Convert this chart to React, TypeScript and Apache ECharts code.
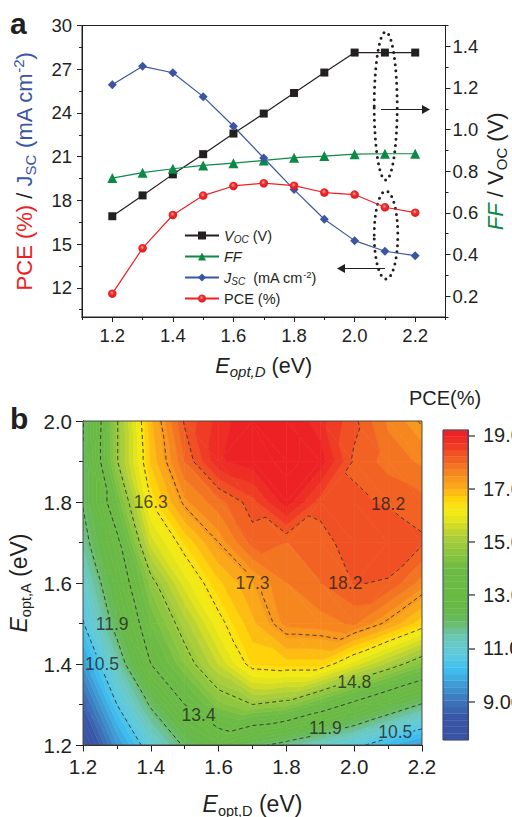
import { useEffect, useRef } from "react"
import * as echarts from "echarts"

// panel a
const eoptD = [1.2, 1.3, 1.4, 1.5, 1.6, 1.7, 1.8, 1.9, 2.0, 2.1, 2.2]
const voc = [0.584, 0.684, 0.785, 0.882, 0.981, 1.077, 1.176, 1.274, 1.37, 1.37, 1.37]
const ff = [0.767, 0.793, 0.812, 0.828, 0.839, 0.852, 0.865, 0.873, 0.882, 0.884, 0.884]
const jsc = [25.94, 27.2, 26.76, 25.12, 23.09, 20.91, 18.74, 16.71, 15.24, 14.51, 14.21]
const pce = [11.6, 14.72, 17.0, 18.33, 18.99, 19.18, 19.01, 18.54, 18.4, 17.53, 17.16]

const topXMajor = [1.2, 1.4, 1.6, 1.8, 2.0, 2.2]
const topXMinor = [1.1, 1.3, 1.5, 1.7, 1.9, 2.1, 2.3]
const leftMajor = [12, 15, 18, 21, 24, 27, 30]
const leftMinor = [10.5, 13.5, 16.5, 19.5, 22.5, 25.5, 28.5]
const rightMajor = [0.2, 0.4, 0.6, 0.8, 1.0, 1.2, 1.4]
const rightMinor = [0.1, 0.3, 0.5, 0.7, 0.9, 1.1, 1.3, 1.5]

// panel b, rows run from Eopt,A = 1.2 up to 2.0
const mapX = [1.2, 1.3, 1.4, 1.5, 1.6, 1.7, 1.8, 1.9, 2.0, 2.1, 2.2]
const mapY = [1.2, 1.3, 1.4, 1.5, 1.6, 1.7, 1.8, 1.9, 2.0]
const pceMap = [
  [7.6, 9.5, 10.9, 12.0, 12.7, 12.1, 11.65, 11.2, 10.7, 10.1, 9.6],
  [8.6, 10.5, 12.0, 13.4, 14.4, 14.8, 14.6, 13.9, 13.2, 12.5, 11.85],
  [9.6, 11.4, 13.4, 14.5, 15.5, 16.5, 16.6, 16.6, 15.85, 15.15, 14.4],
  [10.45, 12.2, 14.0, 15.1, 16.15, 16.9, 17.55, 17.6, 17.75, 17.2, 16.55],
  [11.0, 12.7, 14.6, 15.85, 16.65, 17.2, 17.7, 17.95, 18.22, 18.17, 17.6],
  [11.6, 13.2, 15.6, 16.5, 17.3, 18.05, 17.95, 18.05, 18.4, 18.42, 18.25],
  [11.95, 14.0, 16.3, 17.4, 17.85, 18.35, 19.1, 18.33, 18.25, 18.17, 18.05],
  [11.95, 14.75, 16.75, 17.95, 18.9, 19.1, 19.25, 19.1, 18.15, 17.85, 17.66],
  [11.85, 14.75, 16.9, 18.25, 18.8, 19.2, 19.25, 18.8, 18.27, 17.66, 17.25],
]
const contourLevels = [10.5, 11.9, 13.4, 14.8, 16.3, 17.3, 18.2]
const contourLabels = [
  [1.4, 1.8, "16.3"],
  [1.7, 1.6, "17.3"],
  [1.974, 1.6, "18.2"],
  [2.1, 1.794, "18.2"],
  [1.286, 1.5, "11.9"],
  [1.256, 1.4, "10.5"],
  [1.541, 1.274, "13.4"],
  [2.0, 1.356, "14.8"],
  [1.915, 1.241, "11.9"],
  [2.121, 1.233, "10.5"],
]
const mapXMajor = [1.2, 1.4, 1.6, 1.8, 2.0, 2.2]
const mapXMinor = [1.3, 1.5, 1.7, 1.9, 2.1]
const mapYMajor = [1.2, 1.4, 1.6, 1.8, 2.0]
const mapYMinor = [1.3, 1.5, 1.7, 1.9]
const barTicks = [9, 11, 13, 15, 17, 19]

// colour scale
const barMin = 7.56
const barMax = 19.2
const bandStep = 0.2475
const colorStops: [number, string][] = [
  [7.5, "#3953a4"],
  [8.4, "#3a56a6"],
  [9.0, "#3d74b8"],
  [9.7, "#3f9fd8"],
  [10.2, "#3dbfef"],
  [10.7, "#5cc9e0"],
  [11.3, "#6ccbc0"],
  [11.6, "#6bc2a0"],
  [12.0, "#69bb60"],
  [12.5, "#67b945"],
  [14.0, "#6dbb45"],
  [14.6, "#8dc63f"],
  [15.2, "#afcf3a"],
  [15.8, "#e0e31b"],
  [16.2, "#f7ec13"],
  [16.6, "#ffd20a"],
  [16.87, "#fdb913"],
  [17.12, "#faa61a"],
  [17.37, "#f8971d"],
  [17.6, "#f6861f"],
  [17.85, "#f37321"],
  [18.1, "#f26022"],
  [18.35, "#f04e23"],
  [18.6, "#ef3a24"],
  [19.0, "#ed2324"],
  [19.3, "#ed2024"],
]

const ink = "#231f20"
const font = "Liberation Sans"

function colorAt(v: number) {
  for (let i = 1; i < colorStops.length; i++) {
    if (v <= colorStops[i][0]) {
      const [v0, c0] = colorStops[i - 1]
      const [v1, c1] = colorStops[i]
      const t = Math.max(0, (v - v0) / (v1 - v0))
      const mix = [1, 3, 5].map((p) => {
        const a = parseInt(c0.slice(p, p + 2), 16)
        const b = parseInt(c1.slice(p, p + 2), 16)
        return Math.round(a + (b - a) * t)
      })
      return `rgb(${mix.join(",")})`
    }
  }
  return colorStops[colorStops.length - 1][1]
}

const bands: number[][] = []
for (let k = 0; barMin + k * bandStep < barMax; k++) {
  bands.push([barMin + k * bandStep, Math.min(barMax, barMin + (k + 1) * bandStep)])
}
// the map can dip just under the bar's lower end
bands[0][0] = 0
bands[bands.length - 1][1] = 100

type V = { x: number; y: number; z: number; key: string }

function vertex(i: number, j: number): V {
  return { x: mapX[i], y: mapY[j], z: pceMap[j][i], key: `${i}_${j}` }
}

// split each cell along the diagonal that runs with the contours, not across them
function cellTriangles(i: number, j: number): V[][] {
  const a = vertex(i, j)
  const b = vertex(i + 1, j)
  const c = vertex(i + 1, j + 1)
  const d = vertex(i, j + 1)
  if (Math.abs(a.z - c.z) <= Math.abs(b.z - d.z)) {
    return [
      [a, b, c],
      [a, c, d],
    ]
  }
  return [
    [a, b, d],
    [b, c, d],
  ]
}

function cross(p: V, q: V, level: number): V {
  const t = (level - p.z) / (q.z - p.z)
  const key = p.key < q.key ? `${p.key}|${q.key}` : `${q.key}|${p.key}`
  return { x: p.x + (q.x - p.x) * t, y: p.y + (q.y - p.y) * t, z: level, key }
}

function clipPoly(poly: V[], level: number, keepAbove: boolean) {
  const out: V[] = []
  poly.forEach((p, n) => {
    const q = poly[(n + 1) % poly.length]
    const pIn = keepAbove ? p.z >= level : p.z <= level
    const qIn = keepAbove ? q.z >= level : q.z <= level
    if (pIn) out.push(p)
    if (pIn !== qIn) out.push(cross(p, q, level))
  })
  return out
}

// joins the triangle by triangle crossings of one level into polylines
function contourChains(level: number) {
  const segs: V[][] = []
  for (let j = 0; j < mapY.length - 1; j++) {
    for (let i = 0; i < mapX.length - 1; i++) {
      cellTriangles(i, j).forEach((tri) => {
        const hits: V[] = []
        tri.forEach((p, n) => {
          const q = tri[(n + 1) % 3]
          if (p.z >= level !== q.z >= level) hits.push(cross(p, q, level))
        })
        if (hits.length === 2) segs.push(hits)
      })
    }
  }
  const chains: V[][] = []
  const used = segs.map(() => false)
  const grow = (chain: V[]) => {
    let found = true
    while (found) {
      found = false
      const tail = chain[chain.length - 1].key
      for (let n = 0; n < segs.length; n++) {
        if (used[n]) continue
        if (segs[n][0].key === tail || segs[n][1].key === tail) {
          used[n] = true
          chain.push(segs[n][0].key === tail ? segs[n][1] : segs[n][0])
          found = true
          break
        }
      }
    }
  }
  segs.forEach((seg, n) => {
    if (used[n]) return
    used[n] = true
    const chain = [seg[0], seg[1]]
    grow(chain)
    chain.reverse()
    grow(chain)
    chains.push(chain)
  })
  return chains
}

const mapCells: number[][] = []
for (let j = 0; j < mapY.length - 1; j++) {
  for (let i = 0; i < mapX.length - 1; i++) {
    mapCells.push([mapX[i], mapY[j], i, j])
  }
}

const renderCell = (_: any, api: any) => {
  const children: any[] = []
  cellTriangles(api.value(2), api.value(3)).forEach((tri) => {
    const zs = tri.map((p) => p.z)
    const low = Math.min(...zs)
    const high = Math.max(...zs)
    bands.forEach(([lo, hi]) => {
      if (hi < low || lo > high) return
      const poly = clipPoly(clipPoly(tri, lo, true), hi, false)
      if (poly.length < 3) return
      const fill = colorAt((Math.max(lo, barMin) + Math.min(hi, barMax)) / 2)
      children.push({
        type: "polygon",
        shape: { points: poly.map((p) => api.coord([p.x, p.y])) },
        style: { fill, stroke: fill, lineWidth: 0.6 },
      })
    })
  })
  return { type: "group", children }
}

// the dashed lines stop short of the labels that sit on them
const renderContour = (_: any, api: any) => {
  const boxes = contourLabels.map((l) => api.coord([l[0], l[1]]))
  const hidden = (p: number[]) => boxes.some((b) => Math.abs(p[0] - b[0]) < 18 && Math.abs(p[1] - b[1]) < 8)
  const children: any[] = []
  contourChains(api.value(1)).forEach((chain) => {
    let run: number[][] = []
    const flush = () => {
      if (run.length > 1) {
        children.push({
          type: "polyline",
          shape: { points: run },
          style: { fill: "none", stroke: "#2b2b2b", lineWidth: 0.9, lineDash: [4, 3] },
        })
      }
      run = []
    }
    chain.forEach((v, n) => {
      const p = api.coord([v.x, v.y])
      if (n > 0) {
        const prev = api.coord([chain[n - 1].x, chain[n - 1].y])
        for (let s = 1; s < 12; s++) {
          const q = [prev[0] + ((p[0] - prev[0]) * s) / 12, prev[1] + ((p[1] - prev[1]) * s) / 12]
          if (hidden(q)) flush()
          else run.push(q)
        }
      }
      if (hidden(p)) flush()
      else run.push(p)
    })
    flush()
  })
  return { type: "group", children }
}

const renderBand = (_: any, api: any) => {
  const top = api.coord([1, api.value(1)])
  const bottom = api.coord([0, api.value(0)])
  const fill = colorAt((api.value(0) + api.value(1)) / 2)
  return {
    type: "rect",
    shape: { x: bottom[0], y: top[1], width: top[0] - bottom[0], height: bottom[1] - top[1] },
    style: { fill, stroke: fill, lineWidth: 0.3 },
  }
}

function valueAxis(gridIndex: number, position: string, min: number, max: number, ticks: number[], length: number, label?: (v: number) => string, labelExtra: any = {}) {
  return {
    type: "value",
    gridIndex,
    position,
    min,
    max,
    nameMoveOverlap: false,
    splitLine: { show: false },
    axisLine: { show: true, onZero: false, lineStyle: { color: ink, width: 1 } },
    axisTick: { show: true, customValues: ticks, length, lineStyle: { color: ink, width: 1 } },
    axisLabel: label
      ? { show: true, customValues: ticks, formatter: label, color: ink, fontFamily: font, ...labelExtra }
      : { show: false },
  }
}

const oneDecimal = (v: number) => v.toFixed(1)

const topNameRich = {
  i: { fontSize: 21.5, fontStyle: "italic", color: ink, fontFamily: font },
  s: { fontSize: 15, fontStyle: "italic", color: ink, fontFamily: font, padding: [12, 0, 0, 0] },
  n: { fontSize: 21.5, color: ink, fontFamily: font },
}
const mapNameRich = {
  i: { fontSize: 23, fontStyle: "italic", color: ink, fontFamily: font },
  s: { fontSize: 14.5, color: ink, fontFamily: font, padding: [13, 0, 0, 0] },
  n: { fontSize: 23, color: ink, fontFamily: font },
}

const legendNames = ["Voc", "FF", "Jsc", "PCE"]
const legendRich = {
  i: { fontSize: 14.5, fontStyle: "italic", color: ink, fontFamily: font },
  s: { fontSize: 10, fontStyle: "italic", color: ink, fontFamily: font, padding: [7, 0, 0, 0] },
  n: { fontSize: 14.5, color: ink, fontFamily: font },
  u: { fontSize: 9.5, color: ink, fontFamily: font, padding: [0, 0, 7, 0] },
}
const legendText: Record<string, string> = {
  Voc: "{i|V}{s|OC}{n| (V)}",
  FF: "{i|FF}",
  Jsc: "{i|J}{s|SC}{n|  (mA cm}{u|-2}{n|)}",
  PCE: "{n|PCE (%)}",
}

const lineSeries = (name: string, data: number[], color: any, lineColor: string, yAxisIndex: number, symbol: string, symbolSize: number) => ({
  name,
  type: "line",
  xAxisIndex: 0,
  yAxisIndex,
  data: eoptD.map((x, i) => [x, data[i]]),
  symbol,
  symbolSize,
  itemStyle: { color },
  lineStyle: { color: lineColor, width: 1.2 },
})

// the PCE dots have a small pale highlight
const pceDot = new echarts.graphic.RadialGradient(0.45, 0.4, 0.55, [
  { offset: 0, color: "#f8a5a0" },
  { offset: 0.45, color: "#ee2a2c" },
  { offset: 1, color: "#e01b22" },
])

const arrow = (x1: number, x2: number, y: number) => {
  const dir = x2 > x1 ? 1 : -1
  return [
    { type: "line", shape: { x1, y1: y, x2: x2 - dir * 6, y2: y }, style: { stroke: ink, lineWidth: 1 } },
    {
      type: "polygon",
      shape: { points: [[x2, y], [x2 - dir * 8, y - 4.5], [x2 - dir * 8, y + 4.5]] },
      style: { fill: ink },
    },
  ]
}

const dottedEllipse = (cx: number, cy: number, rx: number, ry: number) => ({
  type: "ellipse",
  shape: { cx, cy, rx, ry },
  style: { fill: "none", stroke: ink, lineWidth: 3, lineDash: [0, 6.2], lineCap: "round" },
})

export default function App() {
  const chartRef = useRef<HTMLDivElement>(null)

  useEffect(() => {
    document.body.style.margin = "0"
    if (!chartRef.current) return
    const chart = echarts.init(chartRef.current, undefined, { renderer: "svg" })

    const barAxis = valueAxis(2, "right", barMin, barMax, barTicks, 6.5, (v: number) => v.toFixed(2), { fontSize: 20, margin: 15 })

    chart.setOption({
      animation: false,
      backgroundColor: "#ffffff",
      textStyle: { fontFamily: font },
      grid: [
        { left: 82, top: 25.5, width: 363.5, height: 291.5, outerBoundsMode: "none" },
        { left: 83, top: 421, width: 339, height: 324, outerBoundsMode: "none" },
        { left: 443, top: 430, width: 25, height: 310, outerBoundsMode: "none" },
      ],
      xAxis: [
        {
          ...valueAxis(0, "bottom", 1.1, 2.3, topXMajor, 5, oneDecimal, { fontSize: 18.5, margin: 9 }),
          name: "{i|E}{s|opt,D}{n| (eV)}",
          nameLocation: "middle",
          nameGap: 35,
          nameTextStyle: { rich: topNameRich },
        },
        valueAxis(0, "bottom", 1.1, 2.3, topXMinor, 3),
        {
          ...valueAxis(1, "bottom", 1.2, 2.2, mapXMajor, 6.5, oneDecimal, { fontSize: 20.5, margin: 11 }),
          name: "{i|E}{s|opt,D}{n| (eV)}",
          nameLocation: "middle",
          nameGap: 45,
          nameTextStyle: { rich: mapNameRich },
        },
        valueAxis(1, "bottom", 1.2, 2.2, mapXMinor, 4),
        { ...valueAxis(2, "bottom", 0, 1, [], 0), show: false },
      ],
      yAxis: [
        {
          ...valueAxis(0, "left", 10, 30, leftMajor, 5, (v: number) => String(v), { fontSize: 18.5, margin: 10 }),
          name: "{r|PCE (%)}{k| / }{b|J}{c|SC}{b| (mA cm}{d|-2}{b|)}",
          nameLocation: "middle",
          nameRotate: 90,
          nameGap: 44,
          nameTextStyle: {
            rich: {
              r: { fontSize: 22, color: "#ed2024", fontFamily: font },
              k: { fontSize: 22, color: ink, fontFamily: font },
              b: { fontSize: 22, color: "#3a55a4", fontFamily: font },
              c: { fontSize: 15, color: "#3a55a4", fontFamily: font, padding: [12, 0, 0, 0] },
              d: { fontSize: 15, color: "#3a55a4", fontFamily: font, padding: [0, 0, 12, 0] },
            },
          },
        },
        valueAxis(0, "left", 10, 30, leftMinor, 3),
        {
          ...valueAxis(0, "right", 0.1, 1.5, rightMajor, 5, oneDecimal, { fontSize: 18.5, margin: 7 }),
          name: "{g|FF}{k| / V}{c|OC}{k| (V)}",
          nameLocation: "middle",
          nameRotate: 90,
          nameGap: 36,
          nameTextStyle: {
            rich: {
              g: { fontSize: 22, fontStyle: "italic", color: "#0b8a45", fontFamily: font },
              k: { fontSize: 22, color: ink, fontFamily: font },
              c: { fontSize: 15, color: ink, fontFamily: font, padding: [12, 0, 0, 0] },
            },
          },
        },
        valueAxis(0, "right", 0.1, 1.5, rightMinor, 3),
        {
          ...valueAxis(1, "left", 1.2, 2.0, mapYMajor, 7, oneDecimal, { fontSize: 20.5, margin: 11 }),
          name: "{i|E}{s|opt,A}{n| (eV)}",
          nameLocation: "middle",
          nameRotate: 90,
          nameGap: 50,
          nameTextStyle: { rich: mapNameRich },
        },
        valueAxis(1, "left", 1.2, 2.0, mapYMinor, 4),
        {
          ...barAxis,
          z: 60,
          axisLine: { show: true, onZero: false, lineStyle: { color: "#3d4a66", width: 1 } },
          axisTick: { show: true, inside: false, customValues: barTicks, length: 7, lineStyle: { color: "#555555", width: 1.5 } },
        },
      ],
      legend: {
        data: legendNames,
        left: 184,
        top: 228,
        padding: 0,
        orient: "vertical",
        itemWidth: 34,
        itemHeight: 10,
        itemGap: 5,
        selectedMode: false,
        formatter: (name: string) => legendText[name],
        textStyle: { rich: legendRich },
      },
      series: [
        lineSeries("Voc", voc, "#231f20", "#231f20", 2, "rect", 8),
        lineSeries("FF", ff, "#0b8a45", "#0b8a45", 2, "triangle", 10),
        lineSeries("Jsc", jsc, "#3a55a4", "#3a55a4", 0, "diamond", 9),
        lineSeries("PCE", pce, pceDot, "#ed2024", 0, "circle", 8.5),
        {
          type: "custom",
          xAxisIndex: 2,
          yAxisIndex: 4,
          clip: true,
          data: mapCells,
          encode: { x: 0, y: 1 },
          renderItem: renderCell,
          silent: true,
        },
        {
          type: "custom",
          xAxisIndex: 2,
          yAxisIndex: 4,
          clip: true,
          data: contourLevels.map((level, i) => [i, level]),
          renderItem: renderContour,
          silent: true,
          z: 3,
        },
        {
          type: "scatter",
          xAxisIndex: 2,
          yAxisIndex: 4,
          data: contourLabels,
          symbolSize: 0,
          z: 4,
          label: {
            show: true,
            position: "inside",
            formatter: (p: any) => p.value[2],
            fontSize: 17.5,
            color: ink,
            fontFamily: font,
          },
        },
        {
          type: "custom",
          xAxisIndex: 4,
          yAxisIndex: 6,
          data: bands.map(([lo, hi]) => [Math.max(lo, barMin), Math.min(hi, barMax)]),
          encode: { y: [0, 1] },
          renderItem: renderBand,
          silent: true,
        },
      ],
      graphic: [
        dottedEllipse(385.7, 106, 11.5, 74),
        dottedEllipse(386, 235, 11.8, 44),
        ...arrow(381, 430, 109.5),
        ...arrow(385, 337, 268.5),
        { type: "text", x: 10, y: 8, style: { text: "a", fontSize: 30, fontWeight: "bold", fill: ink, fontFamily: font } },
        { type: "text", x: 10, y: 403, style: { text: "b", fontSize: 30, fontWeight: "bold", fill: ink, fontFamily: font } },
        { type: "text", x: 409, y: 388, style: { text: "PCE(%)", fontSize: 20, fill: ink, fontFamily: font } },
        {
          type: "rect",
          z: 50,
          shape: { x: 83, y: 421, width: 339, height: 324 },
          style: { fill: "none", stroke: "#4a4a44", lineWidth: 1 },
        },
        {
          type: "rect",
          z: 50,
          shape: { x: 443, y: 430, width: 25, height: 310 },
          style: { fill: "none", stroke: "#3d4a66", lineWidth: 1 },
        },
        {
          type: "rect",
          z: 50,
          shape: { x: 82, y: 25.5, width: 363.5, height: 291.5 },
          style: { fill: "none", stroke: ink, lineWidth: 1 },
        },
      ],
    })

    return () => {
      chart.dispose()
    }
  }, [])

  return <div ref={chartRef} style={{ width: 512, height: 817, overflow: "hidden" }} />
}
